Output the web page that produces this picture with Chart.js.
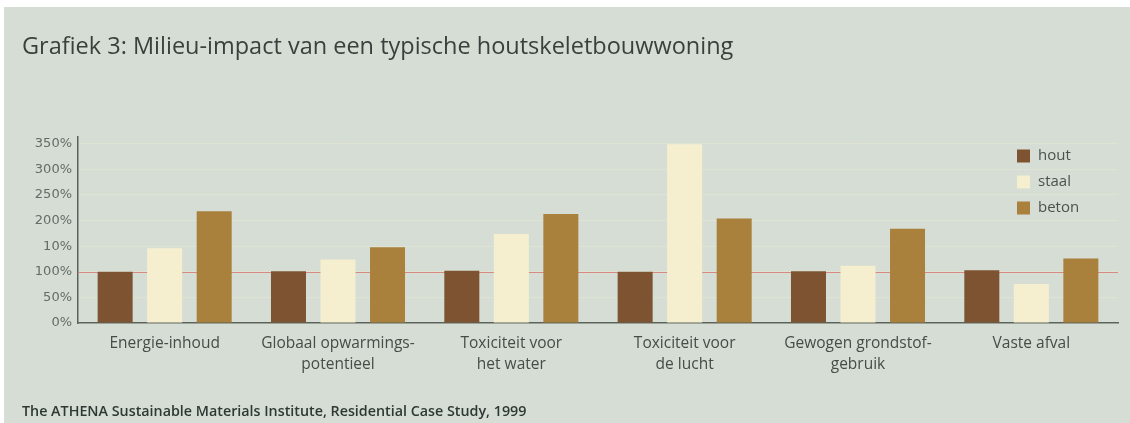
<!DOCTYPE html>
<html>
<head>
<meta charset="utf-8">
<script src="https://cdn.jsdelivr.net/npm/chart.js@4.4.1/dist/chart.umd.min.js"></script>
<style>
  html, body { margin: 0; padding: 0; background: #ffffff; }
  #wrap {
    position: absolute; left: 4px; top: 7px;
    width: 1126px; height: 416px;
    background: #d5ddd5;
  }
</style>
</head>
<body>
<div id="wrap"><canvas id="milieu-chart" width="1126" height="416"></canvas></div>
<script>
// Values (hout = reference 100%)
const categories = [
    ['Energie-inhoud'],
    ['Globaal opwarmings-', 'potentieel'],
    ['Toxiciteit voor', 'het water'],
    ['Toxiciteit voor', 'de lucht'],
    ['Gewogen grondstof-', 'gebruik'],
    ['Vaste afval']
];
const hout = [100, 101, 102, 100, 101, 103];
const staal = [146, 124, 174, 349, 112, 76];
const beton = [218, 148, 213, 204, 184, 126];

const yTickValues = [0, 50, 100, 150, 200, 250, 300, 350];
const yTickLabels = ['0%', '50%', '100%', '10%', '200%', '250%', '300%', '350%']; // "10%" as printed
const refValue = 100;

const chartTitle = 'Grafiek 3: Milieu-impact van een typische houtskeletbouwwoning';
const sourceText = 'The ATHENA Sustainable Materials Institute, Residential Case Study, 1999';

// thin red line at the 100% level, drawn behind the bars
const refLinePlugin = {
    id: 'refLine',
    beforeDatasetsDraw(chart) {
        const { ctx, chartArea, scales } = chart;
        const y = Math.round(scales.y.getPixelForValue(refValue)) + 0.5;
        ctx.save();
        ctx.strokeStyle = '#d88a80';
        ctx.lineWidth = 1;
        ctx.beginPath();
        ctx.moveTo(chartArea.left, y);
        ctx.lineTo(chartArea.right, y);
        ctx.stroke();
        ctx.restore();
    }
};

// vertical legend sitting inside the plot, top right
const boxLegendPlugin = {
    id: 'boxLegend',
    afterDraw(chart) {
        const { ctx } = chart;
        ctx.save();
        ctx.font = '15px "Open Sans", sans-serif';
        ctx.textBaseline = 'middle';
        chart.data.datasets.forEach((ds, i) => {
            const cy = 149 + i * 26;
            ctx.fillStyle = ds.backgroundColor;
            ctx.fillRect(1013, cy - 6.5, 13, 13);
            ctx.fillStyle = '#4a524c';
            ctx.fillText(ds.label, 1034, cy);
        });
        ctx.restore();
    }
};

new Chart(document.getElementById('milieu-chart'), {
    type: 'bar',
    data: {
        labels: categories,
        datasets: [
            { label: 'hout', data: hout, backgroundColor: '#7d5331' },
            { label: 'staal', data: staal, backgroundColor: '#f5efd0' },
            { label: 'beton', data: beton, backgroundColor: '#a9813d' }
        ]
    },
    options: {
        responsive: false,
        animation: false,
        layout: { padding: { left: 18, right: 12, top: 0, bottom: 0 } },
        datasets: {
            bar: { categoryPercentage: 0.857, barPercentage: 0.707, borderWidth: 0 }
        },
        plugins: {
            legend: { display: false },
            tooltip: { enabled: false },
            title: {
                display: true,
                text: chartTitle,
                align: 'start',
                color: '#3a403c',
                font: { family: '"Open Sans", sans-serif', size: 23.5, weight: 'normal', lineHeight: 1.3 },
                padding: { top: 25, bottom: 74 }
            },
            subtitle: {
                display: true,
                text: sourceText,
                position: 'bottom',
                align: 'start',
                color: '#2f3833',
                font: { family: '"Open Sans", sans-serif', size: 14.3, weight: '600', lineHeight: 1.2 },
                padding: { top: 0, bottom: 2.4 }
            }
        },
        scales: {
            x: {
                grid: { display: false, drawTicks: false },
                border: { display: true, color: '#5a625c', width: 1.5 },
                ticks: {
                    color: '#464c47',
                    padding: 10,
                    maxRotation: 0,
                    autoSkip: false,
                    font: { family: '"Open Sans", sans-serif', size: 15.5, lineHeight: 1.36 }
                },
                afterFit: (scale) => { scale.height = 80.4; }
            },
            y: {
                min: 0,
                max: 364,
                afterBuildTicks: (scale) => { scale.ticks = yTickValues.map(v => ({ value: v })); },
                grid: { color: 'rgba(243, 238, 206, 0.35)', lineWidth: 1, drawTicks: false },
                border: { display: true, color: '#5a625c', width: 1.5 },
                ticks: {
                    color: '#656b66',
                    padding: 6,
                    font: { family: '"DejaVu Sans", sans-serif', size: 13 },
                    callback: (value) => {
                        const i = yTickValues.indexOf(value);
                        return i >= 0 ? yTickLabels[i] : '';
                    }
                },
                afterFit: (scale) => { scale.width = 56; }
            }
        }
    },
    plugins: [refLinePlugin, boxLegendPlugin]
});
</script>
</body>
</html>
